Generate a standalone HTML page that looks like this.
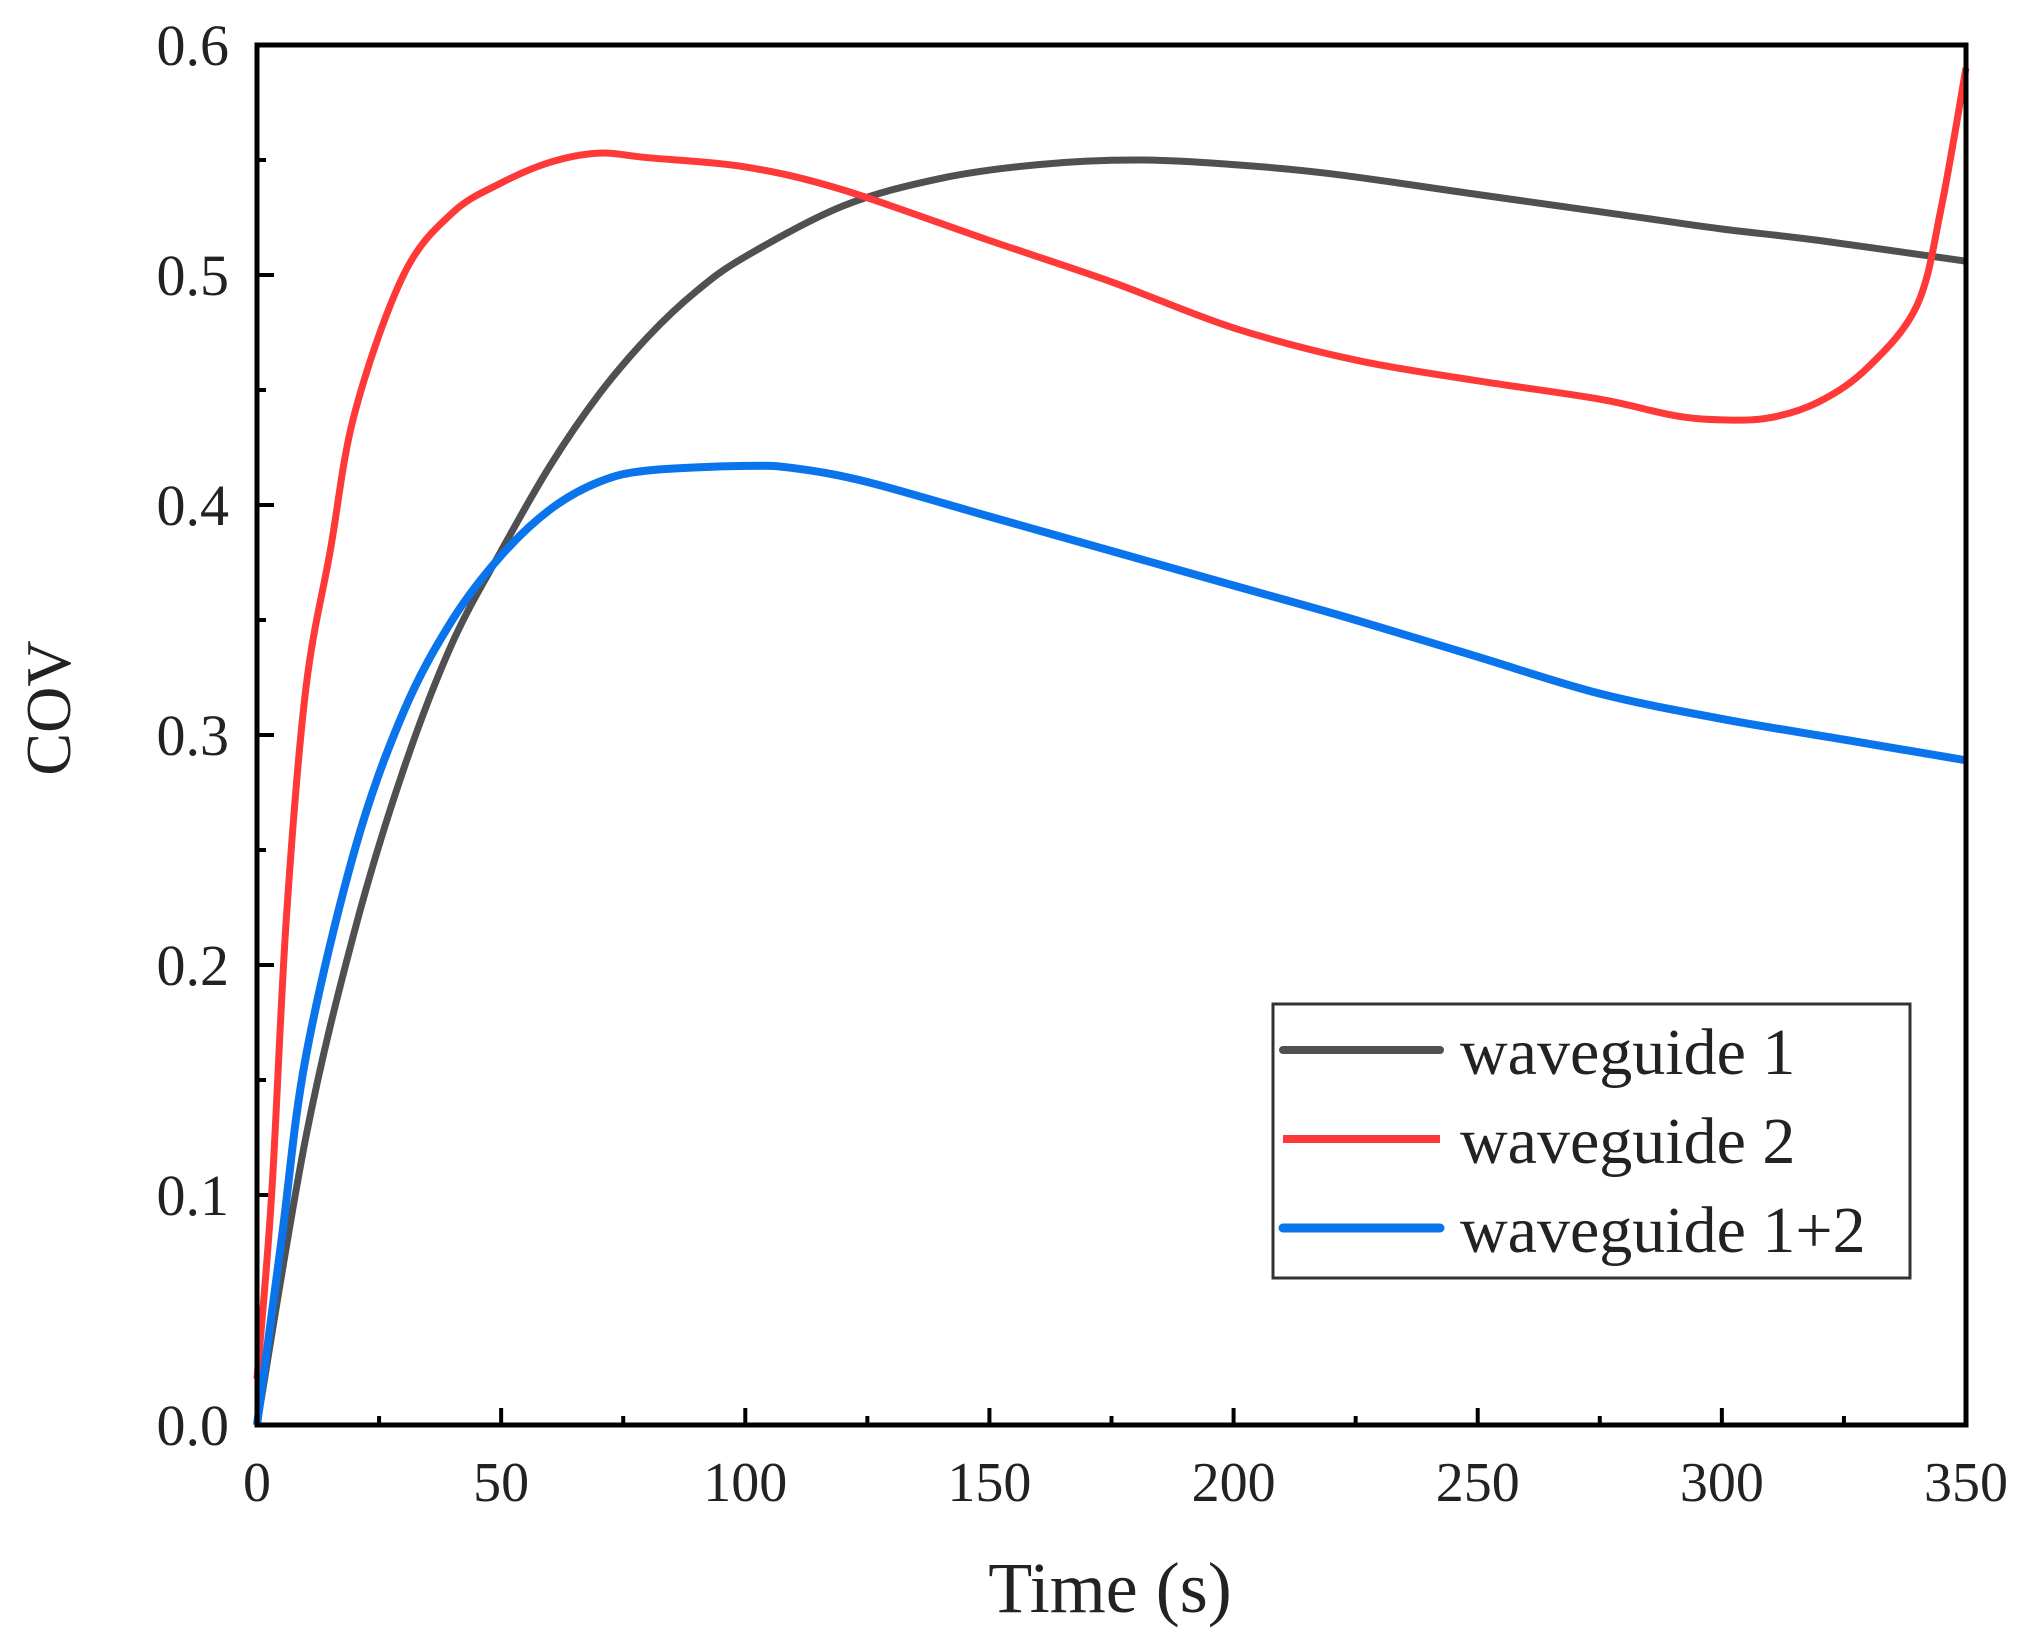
<!DOCTYPE html>
<html><head><meta charset="utf-8"><style>
html,body{margin:0;padding:0;background:#fff;}
svg{display:block;}
text{font-family:"Liberation Serif",serif;fill:#222;}
</style></head><body>
<svg id="chart" width="2020" height="1636" viewBox="0 0 2020 1636" xmlns="http://www.w3.org/2000/svg">
<g id="axes"></g>
<g id="series"></g>
<g id="frame"></g>
<g id="legend">
  <rect x="1273" y="1004" width="637" height="274" fill="#fff" stroke="#333" stroke-width="3"/>
  <g>
    <line x1="1283" y1="1050" x2="1440" y2="1050" stroke="#505050" stroke-width="8" stroke-linecap="round"/>
    <text x="1460" y="1074" font-size="66">waveguide 1</text>
  </g>
  <g>
    <line x1="1283" y1="1139" x2="1440" y2="1139" stroke="#ff3838" stroke-width="8"/>
    <text x="1460" y="1163" font-size="66">waveguide 2</text>
  </g>
  <g>
    <line x1="1283" y1="1228" x2="1440" y2="1228" stroke="#0a74ec" stroke-width="9" stroke-linecap="round"/>
    <text x="1460" y="1252" font-size="66">waveguide 1+2</text>
  </g>
</g>
<text x="1110" y="1612" font-size="72" text-anchor="middle">Time (s)</text>
<text transform="translate(70,708) rotate(-90)" font-size="64" text-anchor="middle">COV</text>
</svg>
<script>
const xTicks = [0, 50, 100, 150, 200, 250, 300, 350];
const yTicks = [0.0, 0.1, 0.2, 0.3, 0.4, 0.5, 0.6];
const yTickLabels = ["0.0", "0.1", "0.2", "0.3", "0.4", "0.5", "0.6"];
const w1X = [0, 10, 20, 30, 40, 50, 60, 70, 80, 90, 100, 120, 140, 160, 180, 200, 220, 250, 280, 300, 320, 350];
const w1Y = [0, 0.125, 0.215, 0.285, 0.34, 0.38, 0.417, 0.448, 0.473, 0.493, 0.508, 0.53, 0.542, 0.548, 0.55, 0.548, 0.544, 0.535, 0.526, 0.52, 0.515, 0.506];
const w2X = [0, 3, 6, 10, 15, 20, 30, 40, 50, 60, 70, 80, 100, 120, 150, 175, 200, 225, 250, 275, 290, 300, 310, 320, 330, 340, 345, 350];
const w2Y = [0.02, 0.1, 0.22, 0.32, 0.38, 0.44, 0.5, 0.527, 0.54, 0.549, 0.553, 0.551, 0.547, 0.537, 0.515, 0.497, 0.477, 0.463, 0.454, 0.446, 0.439, 0.437, 0.438, 0.445, 0.46, 0.487, 0.53, 0.59];
const w12X = [0, 5, 10, 20, 30, 40, 50, 60, 70, 80, 100, 110, 125, 150, 175, 200, 225, 250, 275, 300, 325, 350];
const w12Y = [0, 0.08, 0.16, 0.25, 0.31, 0.35, 0.378, 0.398, 0.41, 0.415, 0.417, 0.416, 0.41, 0.395, 0.38, 0.365, 0.35, 0.334, 0.318, 0.307, 0.298, 0.289];

const L = 257, R = 1966, T = 45, B = 1425;
const xMin = 0, xMax = 350, yMin = 0, yMax = 0.6;
function sx(v){ return L + (v - xMin) / (xMax - xMin) * (R - L); }
function sy(v){ return B - (v - yMin) / (yMax - yMin) * (B - T); }
const NS = "http://www.w3.org/2000/svg";
function mk(tag, attrs){ const e = document.createElementNS(NS, tag); for (const k in attrs) e.setAttribute(k, attrs[k]); return e; }

const axes = document.getElementById('axes');
xTicks.forEach((v, i) => {
  const t = mk('line', {x1: sx(v), x2: sx(v), y1: B, y2: B - 17, stroke: '#000', 'stroke-width': 4});
  
  
  axes.appendChild(t);
  const lb = mk('text', {x: sx(v), y: 1501, 'font-size': 56, 'text-anchor': 'middle'});
  lb.textContent = String(v);
  
  
  axes.appendChild(lb);
  if (i < xTicks.length - 1) {
    const mv = (v + xTicks[i + 1]) / 2;
    const m = mk('line', {x1: sx(mv), x2: sx(mv), y1: B, y2: B - 9, stroke: '#000', 'stroke-width': 4});
    
    
    axes.appendChild(m);
  }
});
yTicks.forEach((v, i) => {
  const t = mk('line', {x1: L, x2: L + 17, y1: sy(v), y2: sy(v), stroke: '#000', 'stroke-width': 4});
  
  
  axes.appendChild(t);
  const lb = mk('text', {x: 229, y: sy(v) + 20, 'font-size': 58, 'text-anchor': 'end'});
  lb.textContent = yTickLabels[i];
  
  
  axes.appendChild(lb);
  if (i < yTicks.length - 1) {
    const mv = (v + yTicks[i + 1]) / 2;
    const m = mk('line', {x1: L, x2: L + 9, y1: sy(mv), y2: sy(mv), stroke: '#000', 'stroke-width': 4});
    
    
    axes.appendChild(m);
  }
});

const series = document.getElementById('series');
function smoothPath(xs, ys){
  const P = xs.map((x, i) => [sx(x), sy(ys[i])]);
  let d = 'M' + P[0][0].toFixed(1) + ',' + P[0][1].toFixed(1);
  for (let i = 0; i < P.length - 1; i++) {
    const p0 = P[i - 1] || P[i], p1 = P[i], p2 = P[i + 1], p3 = P[i + 2] || P[i + 1];
    const c1 = [p1[0] + (p2[0] - p0[0]) / 6, p1[1] + (p2[1] - p0[1]) / 6];
    const c2 = [p2[0] - (p3[0] - p1[0]) / 6, p2[1] - (p3[1] - p1[1]) / 6];
    d += ' C' + c1[0].toFixed(1) + ',' + c1[1].toFixed(1) + ' ' + c2[0].toFixed(1) + ',' + c2[1].toFixed(1) + ' ' + p2[0].toFixed(1) + ',' + p2[1].toFixed(1);
  }
  return d;
}
function drawLine(xs, ys, color, width, name){
  const p = mk('path', {d: smoothPath(xs, ys), fill: 'none', stroke: color, 'stroke-width': width, 'stroke-linejoin': 'round'});
  
  
  series.appendChild(p);
}
drawLine(w1X, w1Y, '#505050', 7, 'line-waveguide-1');
drawLine(w2X, w2Y, '#ff3838', 7, 'line-waveguide-2');
drawLine(w12X, w12Y, '#0a74ec', 8, 'line-waveguide-1-2');

const frame = document.getElementById('frame');
const fr = mk('rect', {x: L, y: T, width: R - L, height: B - T, fill: 'none', stroke: '#000', 'stroke-width': 5});


frame.appendChild(fr);
</script>
</body></html>
